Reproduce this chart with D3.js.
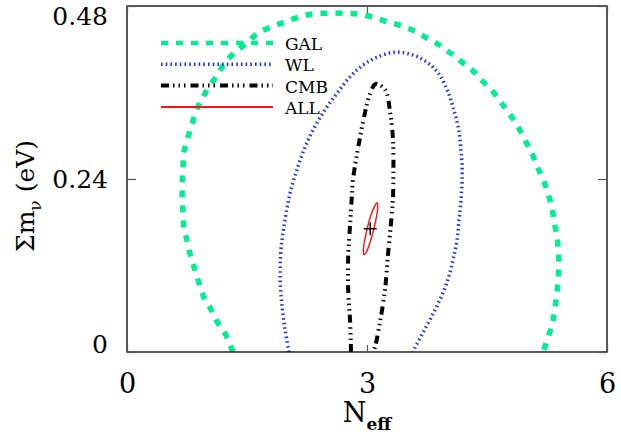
<!DOCTYPE html>
<html>
<head>
<meta charset="utf-8">
<script src="https://cdn.jsdelivr.net/npm/d3@7"></script>
<style>
  body { margin: 0; background: #fff; }
  text { font-family: "DejaVu Serif", serif; fill: #000; }
</style>
</head>
<body>
<svg id="chart" width="621" height="434"></svg>
<script>
// contour data: [N_eff, sum m_nu]
const galContour = [
  [1.325, 0], [1.225, 0.026], [1.125, 0.042], [1.04, 0.061], [0.96, 0.076],
  [0.9, 0.096], [0.84, 0.117], [0.79, 0.135], [0.75, 0.155], [0.71, 0.173],
  [0.7, 0.194], [0.69, 0.215], [0.69, 0.235], [0.7, 0.255], [0.71, 0.276],
  [0.75, 0.294], [0.81, 0.315], [0.86, 0.333], [0.95, 0.354], [1.125, 0.384],
  [1.225, 0.401], [1.35, 0.416], [1.5, 0.429], [1.64, 0.443], [1.81, 0.451],
  [1.975, 0.458], [2.16, 0.465], [2.325, 0.469], [2.5, 0.470], [2.69, 0.470],
  [2.875, 0.469], [3.06, 0.465], [3.225, 0.459], [3.39, 0.454], [3.56, 0.447],
  [3.725, 0.437], [3.89, 0.427], [4.04, 0.415], [4.19, 0.402], [4.325, 0.390],
  [4.45, 0.375], [4.575, 0.361], [4.69, 0.344], [4.79, 0.329], [4.89, 0.312],
  [4.975, 0.294], [5.06, 0.276], [5.125, 0.258], [5.2, 0.240], [5.26, 0.221],
  [5.31, 0.201], [5.34, 0.180], [5.375, 0.161], [5.39, 0.142], [5.4, 0.122],
  [5.39, 0.103], [5.375, 0.082], [5.35, 0.062], [5.325, 0.044], [5.275, 0.024],
  [5.2, 0]
];

const wlContour = [
  [2.025, 0], [1.975, 0.031], [1.94, 0.062], [1.915, 0.100], [1.925, 0.142],
  [1.95, 0.165], [1.99, 0.193], [2.04, 0.221], [2.11, 0.248], [2.21, 0.280],
  [2.325, 0.308], [2.475, 0.336], [2.625, 0.359], [2.79, 0.382], [2.95, 0.398],
  [3.125, 0.409], [3.35, 0.416], [3.575, 0.412], [3.75, 0.402], [3.89, 0.387],
  [4.0, 0.364], [4.075, 0.340], [4.14, 0.312], [4.175, 0.280], [4.19, 0.248],
  [4.175, 0.211], [4.15, 0.183], [4.125, 0.155], [4.075, 0.128], [4.01, 0.100],
  [3.925, 0.076], [3.825, 0.053], [3.71, 0.029], [3.6, 0.006], [3.575, 0]
];

const cmbContour = [
  [2.8, 0], [2.79, 0.040], [2.765, 0.086], [2.765, 0.132], [2.79, 0.179],
  [2.81, 0.215], [2.825, 0.239], [2.89, 0.284], [2.975, 0.332], [3.04, 0.359],
  [3.11, 0.372], [3.225, 0.364], [3.29, 0.332], [3.325, 0.294], [3.33, 0.248],
  [3.325, 0.215], [3.3, 0.179], [3.26, 0.132], [3.225, 0.086], [3.16, 0.040],
  [3.1, 0.007], [3.075, 0]
];

const allContour = [
  [3.125, 0.207], [3.134, 0.201], [3.119, 0.188], [3.084, 0.170],
  [3.038, 0.152], [2.994, 0.139], [2.963, 0.135], [2.954, 0.140],
  [2.969, 0.154], [3.004, 0.172], [3.05, 0.190], [3.094, 0.202]
];

const bestFit = [3.04, 0.171];

const xTicks = [0, 3, 6];
const yTicks = [0, 0.24, 0.48];
const legendNames = ["GAL", "WL", "CMB", "ALL"];

const styles = {
  GAL: { color: "#00ee90", width: 5.5, dash: "7,8" },
  WL:  { color: "#2233ee", width: 3.5, dash: "1.6,3.1" },
  CMB: { color: "#000", width: 4, dash: "8,4,1.5,4,1.5,4,1.5,5" },
  ALL: { color: "#ff1010", width: 1.4, dash: null }
};

const svg = d3.select("#chart");
const pLeft = 127, pRight = 607, pTop = 6, pBottom = 352;

const x = d3.scaleLinear().domain([0, 6]).range([pLeft, pRight]);
const y = d3.scaleLinear().domain([0, 0.48]).range([pBottom, pTop]);

svg.append("clipPath").attr("id", "plotClip")
  .append("rect").attr("x", pLeft).attr("y", pTop)
  .attr("width", pRight - pLeft).attr("height", pBottom - pTop);

const plot = svg.append("g").attr("clip-path", "url(#plotClip)");

const openLine = d3.line().x(d => x(d[0])).y(d => y(d[1])).curve(d3.curveCatmullRom.alpha(0.5));
const closedLine = d3.line().x(d => x(d[0])).y(d => y(d[1])).curve(d3.curveCatmullRomClosed.alpha(0.5));

function drawContour(data, st, gen) {
  plot.append("path")
    .attr("d", gen(data))
    .attr("fill", "none")
    .attr("stroke", st.color)
    .attr("stroke-width", st.width)
    .attr("stroke-dasharray", st.dash)
    .attr("stroke-linejoin", "round");
}

drawContour(galContour, styles.GAL, openLine);
drawContour(wlContour, styles.WL, openLine);
drawContour(cmbContour, styles.CMB, openLine);
drawContour(allContour, styles.ALL, closedLine);

// best fit cross
const cx = x(bestFit[0]), cy = y(bestFit[1]);
plot.append("path")
  .attr("d", `M${cx - 6.5},${cy}H${cx + 6.5}M${cx},${cy - 6.5}V${cy + 6.5}`)
  .attr("stroke", "#000").attr("stroke-width", 1.4);

// frame
svg.append("rect")
  .attr("x", pLeft).attr("y", pTop)
  .attr("width", pRight - pLeft).attr("height", pBottom - pTop)
  .attr("fill", "none").attr("stroke", "#000").attr("stroke-width", 1.3);

// axes with inward ticks
const xAxis = svg.append("g").attr("transform", `translate(0,${pBottom})`)
  .call(d3.axisBottom(x).tickValues(xTicks).tickSizeInner(-7).tickSizeOuter(0).tickPadding(22)
    .tickFormat(d3.format("d")));
svg.append("g").attr("transform", `translate(0,${pTop})`)
  .call(d3.axisTop(x).tickValues(xTicks).tickSizeInner(-7).tickSizeOuter(0).tickFormat(""));
const yAxis = svg.append("g").attr("transform", `translate(${pLeft},0)`)
  .call(d3.axisLeft(y).tickValues(yTicks).tickSizeInner(-9).tickSizeOuter(0).tickPadding(19)
    .tickFormat(d => d === 0 ? "0" : d3.format(".2f")(d)));
svg.append("g").attr("transform", `translate(${pRight},0)`)
  .call(d3.axisRight(y).tickValues(yTicks).tickSizeInner(-9).tickSizeOuter(0).tickFormat(""));

svg.selectAll(".domain").remove();
svg.selectAll(".tick line").attr("stroke", "#555").attr("stroke-width", 1.2);
xAxis.selectAll("text").style("font-size", "27px").style("font-family", "DejaVu Serif");
yAxis.selectAll("text").style("font-size", "25px").style("font-family", "DejaVu Serif");
// keep the end labels inside the frame height, as in the original
yAxis.selectAll(".tick text").attr("dy", d => d === 0.48 ? "0.75em" : d === 0 ? "0.0em" : "0.35em");

// axis titles
const xt = svg.append("text").attr("x", 367).attr("y", 422)
  .attr("text-anchor", "middle").style("font-size", "27px");
xt.append("tspan").text("N");
xt.append("tspan").attr("dy", 8).style("font-size", "17px").style("font-weight", "bold").text("eff");

const yt = svg.append("text").attr("transform", "translate(34,196) rotate(-90)")
  .attr("text-anchor", "middle").style("font-size", "25px");
yt.append("tspan").text("Σm");
yt.append("tspan").attr("dy", 7).style("font-size", "17px").text("ν");
yt.append("tspan").attr("dy", -7).text(" (eV)");

// legend
const legend = svg.append("g");
legendNames.forEach((name, i) => {
  const ly = 43 + i * 21.3;
  const st = styles[name];
  legend.append("line")
    .attr("x1", 161).attr("x2", 273).attr("y1", ly).attr("y2", ly)
    .attr("stroke", st.color)
    .attr("stroke-width", name === "ALL" ? 2 : (name === "GAL" ? 4.5 : st.width))
    .attr("stroke-dasharray", st.dash);
  legend.append("text").attr("x", 285).attr("y", ly + 7)
    .style("font-size", "17px").text(name);
});
</script>
</body>
</html>
